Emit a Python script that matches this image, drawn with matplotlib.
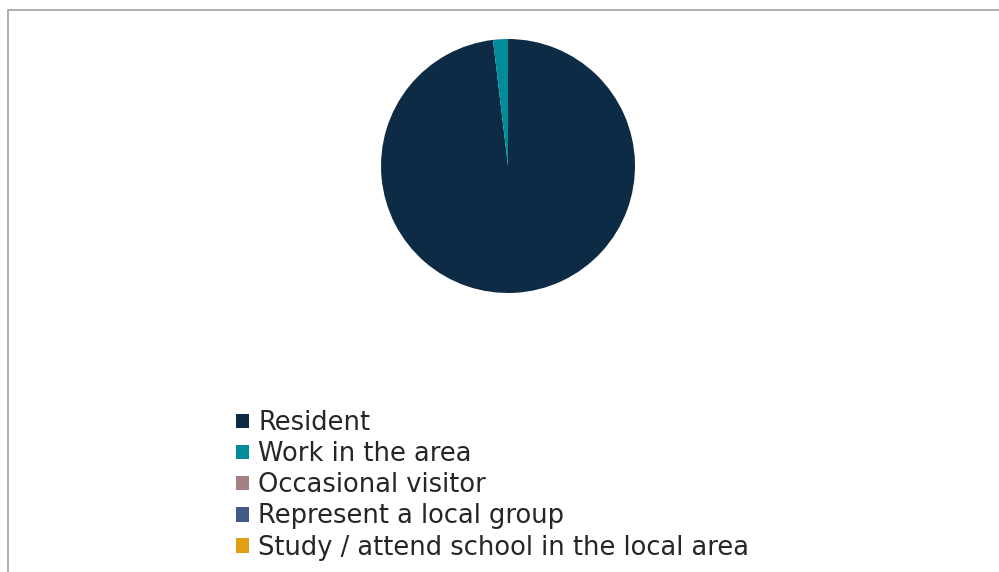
import matplotlib.pyplot as plt
from matplotlib.patches import Rectangle

categories = ["Resident", "Work in the area", "Occasional visitor",
              "Represent a local group", "Study / attend school in the local area"]
counts = [52, 1, 0, 0, 0]
colors = ["#0e2b45", "#008c99", "#a67f83", "#445a86", "#e1a014"]

W, H = 999, 572
fig = plt.figure(figsize=(W / 100, H / 100), dpi=100)

# chart-area border (top and left edges visible)
fig.add_artist(Rectangle((7.5 / W, -0.1), 1.2, 1.1 - 9.5 / H, transform=fig.transFigure,
                         fill=False, edgecolor="#a0a0a0", linewidth=1.2))

cx, cy, r = 508, 166, 127
ax = fig.add_axes([(cx - r) / W, (H - cy - r) / H, 2 * r / W, 2 * r / H])
wedges, _ = ax.pie(counts, colors=colors, startangle=90, counterclock=False,
                   radius=1, wedgeprops=dict(linewidth=0))
ax.set_xlim(-1, 1)
ax.set_ylim(-1, 1)
ax.set_aspect("equal")
ax.axis("off")

fig.legend(wedges, categories, loc="upper left", bbox_to_anchor=(236 / W, 1 - 410 / H),
           frameon=False, fontsize=18.5, handlelength=0.49, handleheight=0.49,
           handletextpad=0.38, labelspacing=0.2, borderpad=0, borderaxespad=0,
           labelcolor="#262626")

fig.savefig("out.png", dpi=100)
